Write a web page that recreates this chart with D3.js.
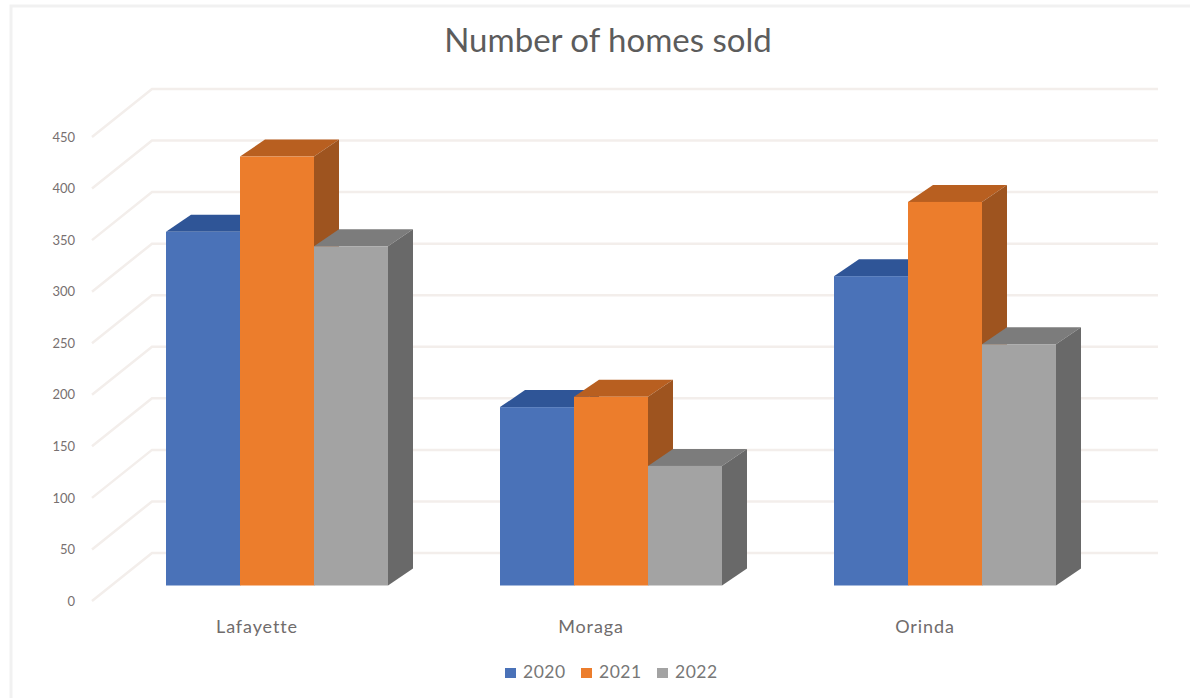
<!DOCTYPE html>
<html>
<head>
<meta charset="utf-8">
<style>
  html, body { margin: 0; padding: 0; background: #fff; }
  svg { display: block; }
  text { font-family: Lato, "Open Sans", sans-serif; }
</style>
<script src="https://cdn.jsdelivr.net/npm/d3@7/dist/d3.min.js"></script>
</head>
<body>
<svg id="chart" width="1190" height="698"></svg>
<script>
const towns = ["Lafayette", "Moraga", "Orinda"];
const years = ["2020", "2021", "2022"];
const sold2020 = [343, 173, 300];
const sold2021 = [416, 183, 372];
const sold2022 = [329, 116, 234];
const yTicks = [0, 50, 100, 150, 200, 250, 300, 350, 400, 450];

const faceColors = ["#4a72b8", "#ec7d2c", "#a3a3a3"];
const topColors = ["#2f5597", "#b85f20", "#7c7c7c"];
const sideColors = ["#264478", "#9e541f", "#696969"];

const soldByYear = [sold2020, sold2021, sold2022];

const svg = d3.select("#chart");

// Oblique projection: the back wall sits up and to the right of the front plane
const depthX = 25, depthY = -17;
const wallX = 60, wallY = -48;

const y = d3.scaleLinear().domain([0, 450]).range([585.5, 121.5]);
const x0 = d3.scaleBand().domain(towns).range([110, 1112]).paddingInner(0).paddingOuter(0);
const x1 = d3.scaleBand().domain(years).range([56, 278]);

// Outer chart frame: a top edge and a left edge only
svg.append("path")
  .attr("d", "M1190,6H11V698")
  .attr("fill", "none")
  .attr("stroke", "#f1f1f1")
  .attr("stroke-width", 3);

svg.append("text")
  .attr("x", 608).attr("y", 52)
  .attr("text-anchor", "middle")
  .attr("font-size", 33)
  .attr("fill", "#5c5c5c")
  .text("Number of homes sold");

// Back-wall gridlines and the slanted lines along the side wall
const grid = svg.append("g").attr("fill", "none").attr("stroke", "#f3eeeb").attr("stroke-width", 2.5);
const backY = v => y(v) + depthY - 15.5;
grid.selectAll("path.wall")
  .data(yTicks)
  .join("path")
  .attr("class", "wall")
  .attr("d", v => `M92,${backY(v) - wallY}L${92 + wallX},${backY(v)}H1158`);

// Value axis, without domain line or tick marks
const axis = d3.axisLeft(y).tickValues(yTicks).tickSize(0).tickPadding(0);
const axisG = svg.append("g").attr("transform", "translate(75,15.5)").call(axis);
axisG.select(".domain").remove();
axisG.selectAll("text")
  .attr("font-size", 13)
  .attr("fill", "#777070")
  .style("font-family", "Lato, 'Open Sans', sans-serif");

// Each series is painted in turn so later bars overlap the sides of earlier ones
years.forEach((year, s) => {
  const g = svg.append("g").attr("class", "series-" + year);
  const rows = towns.map((t, i) => ({
    left: x0(t) + x1(year),
    right: x0(t) + x1(year) + x1.bandwidth(),
    top: y(soldByYear[s][i]),
    base: y(0)
  }));
  g.selectAll("path.top").data(rows).join("path")
    .attr("class", "top")
    .attr("fill", topColors[s])
    .attr("d", d => `M${d.left},${d.top}l${depthX},${depthY}H${d.right + depthX}l${-depthX},${-depthY}Z`);
  g.selectAll("path.side").data(rows).join("path")
    .attr("class", "side")
    .attr("fill", sideColors[s])
    .attr("d", d => `M${d.right},${d.top}l${depthX},${depthY}V${d.base + depthY}l${-depthX},${-depthY}Z`);
  g.selectAll("rect.face").data(rows).join("rect")
    .attr("class", "face")
    .attr("fill", faceColors[s])
    .attr("x", d => d.left)
    .attr("y", d => d.top)
    .attr("width", d => d.right - d.left)
    .attr("height", d => d.base - d.top);
});

// Category labels
svg.append("g").selectAll("text").data(towns).join("text")
  .attr("x", t => x0(t) + x0.bandwidth() / 2 - 20)
  .attr("y", 633)
  .attr("text-anchor", "middle")
  .attr("font-size", 18)
  .attr("letter-spacing", 0.9)
  .attr("fill", "#706c6c")
  .text(t => t);

// Legend
const legendX = d3.scalePoint().domain(years).range([505, 657]);
const legend = svg.append("g").selectAll("g").data(years).join("g")
  .attr("transform", d => `translate(${legendX(d)},668)`);
legend.append("rect")
  .attr("width", 11).attr("height", 10)
  .attr("fill", (d, i) => faceColors[i]);
legend.append("text")
  .attr("x", 18).attr("y", 10)
  .attr("font-size", 17.5)
  .attr("letter-spacing", 0.5)
  .attr("fill", "#777")
  .text(d => d);
</script>
</body>
</html>
